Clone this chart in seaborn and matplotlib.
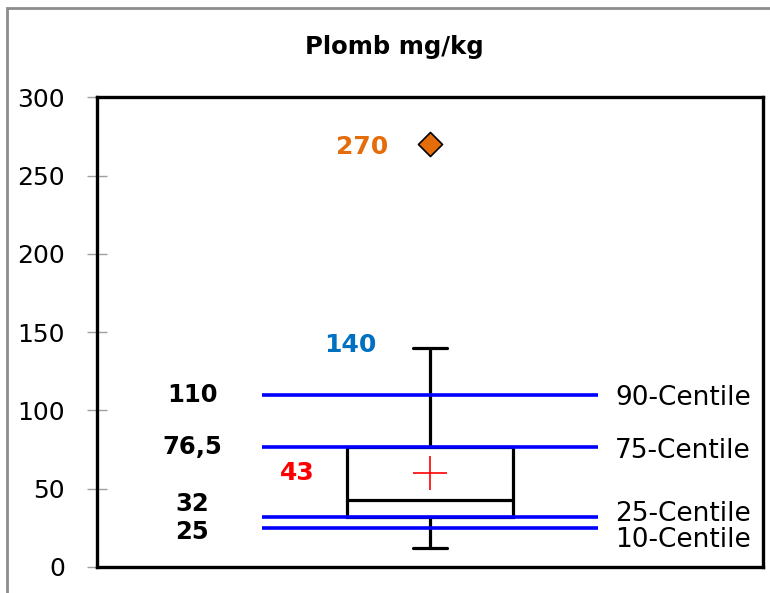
import matplotlib
matplotlib.use("Agg")
import matplotlib.pyplot as plt
import seaborn as sns
import pandas as pd
from matplotlib.patches import Rectangle

# Valeurs
whisker_low = 12
q1 = 32
median = 43
mean = 60
q3 = 76.5
whisker_high = 140
outliers = [270]

centile_values = [110, 76.5, 32, 25]
centile_names = ["90-Centile", "75-Centile", "25-Centile", "10-Centile"]
centile_value_labels = ["110", "76,5", "32", "25"]

sns.set_theme(style="white")
plt.rcParams["font.family"] = ["DejaVu Sans"]

fig = plt.figure(figsize=(7.7, 5.93), dpi=100)
ax = fig.add_axes([0.126, 0.044, 0.865, 0.792])

# cadre gris autour du graphique
fig.patches.append(Rectangle((0.009, -0.05), 1.05, 1.037, transform=fig.transFigure,
                             fill=False, edgecolor="#8c8c8c", linewidth=2))

# lignes des centiles
ax.hlines(centile_values, 0.248, 0.752, color="#0000FF", linewidth=2.6, zorder=3)

# boîte à moustaches
stats = [{"whislo": whisker_low, "q1": q1, "med": median, "q3": q3,
          "whishi": whisker_high, "fliers": []}]
ax.bxp(stats, positions=[0.5], widths=0.25, showfliers=False, patch_artist=True,
       boxprops=dict(facecolor="white", edgecolor="black", linewidth=2.3),
       medianprops=dict(color="black", linewidth=2.3),
       whiskerprops=dict(color="black", linewidth=2.3),
       capprops=dict(color="black", linewidth=2.3), capwidths=0.05,
       manage_ticks=False)
# la boîte passe sous les lignes bleues
for art in ax.patches:
    art.set_zorder(2)

points = pd.DataFrame({"x": [0.5], "y": outliers})
sns.scatterplot(data=points, x="x", y="y", marker="D", s=150, color="#E46C0A",
                edgecolor="black", linewidth=1.2, ax=ax, zorder=5)
ax.plot([0.5], [mean], marker="+", markersize=24, color="red",
        markeredgewidth=1.2, zorder=5)

# étiquettes
left_y = [110, 76.5, 40, 22]
for lbl, yy in zip(centile_value_labels, left_y):
    ax.text(0.143, yy, lbl, ha="center", va="center", fontsize=17.5,
            fontweight="bold", color="black")
right_y = [108, 74, 34, 17.5]
for lbl, yy in zip(centile_names, right_y):
    ax.text(0.778, yy, lbl, ha="left", va="center", fontsize=19, color="black")

ax.text(0.38, 142, str(whisker_high), ha="center", va="center", fontsize=18,
        fontweight="bold", color="#0070C0")
ax.text(0.30, 60, str(median), ha="center", va="center", fontsize=18,
        fontweight="bold", color="#FF0000")
ax.text(0.398, 268, str(outliers[0]), ha="center", va="center", fontsize=18,
        fontweight="bold", color="#E46C0A")

fig.text(0.512, 1 - 47 / 593, "Plomb mg/kg", ha="center", va="center",
         fontsize=17.5, fontweight="bold", color="black")

ax.set_xlim(0, 1)
ax.set_ylim(0, 300)
ax.set_yticks(range(0, 301, 50))
ax.set_xticks([])
ax.set_xlabel("")
ax.set_ylabel("")
ax.tick_params(axis="y", direction="inout", length=15, width=1, color="#a0a0a0",
               labelsize=18, labelcolor="black", pad=15.5, left=True)
for sp in ax.spines.values():
    sp.set_color("black")
    sp.set_linewidth(2.4)

fig.savefig("out.png", dpi=100)
